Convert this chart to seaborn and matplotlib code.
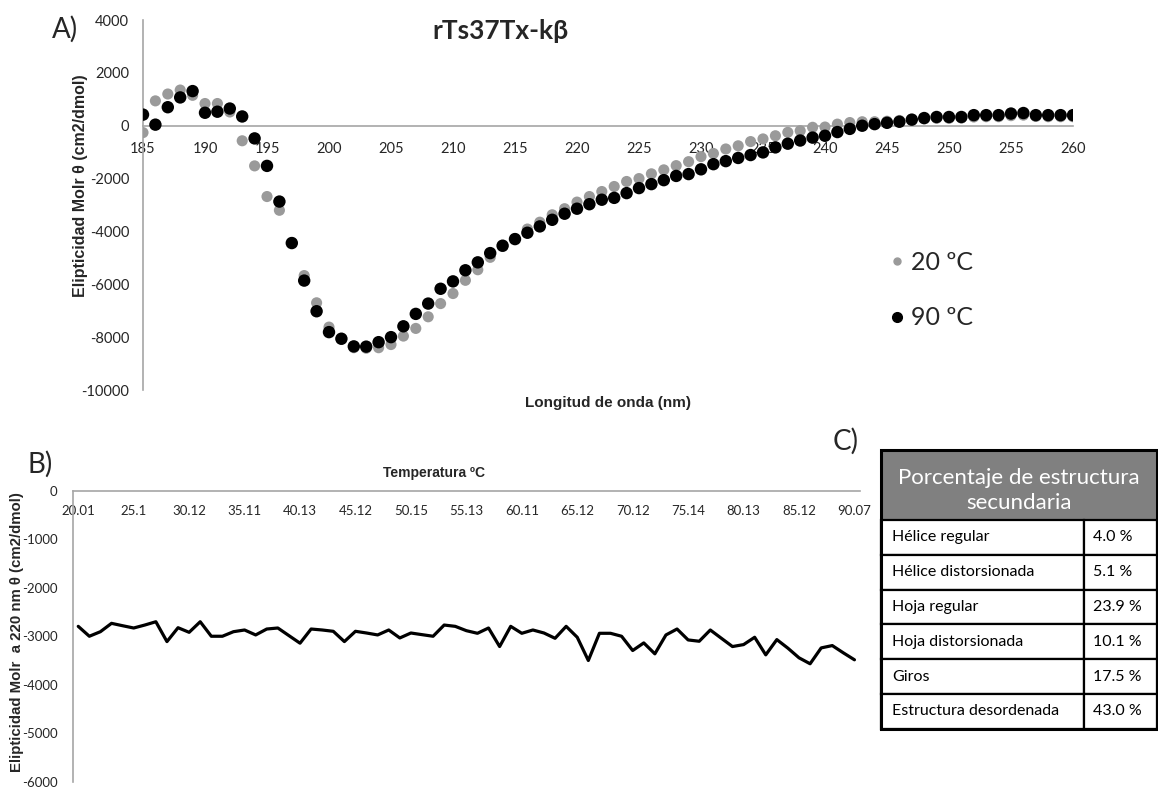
import numpy as np
import pandas as pd
import matplotlib
matplotlib.use("Agg")
import matplotlib.pyplot as plt
from matplotlib.lines import Line2D
from matplotlib.patches import Rectangle
import seaborn as sns

# ---- Panel A: CD spectra ----
wavelength = list(range(185, 261))
theta_20C = [
    -260, 940, 1200, 1350, 1150, 840, 840, 520, -570, -1520,
    -2680, -3200, -4420, -5670, -6700, -7620, -8080, -8400, -8420, -8400,
    -8280, -7960, -7670, -7230, -6730, -6350, -5850, -5450, -4980, -4570,
    -4270, -3910, -3650, -3370, -3140, -2890, -2680, -2490, -2300, -2110,
    -2000, -1820, -1670, -1510, -1360, -1170, -1050, -880, -760, -600,
    -500, -380, -250, -190, -60, -50, 60, 120, 150, 150,
    170, 200, 230, 260, 280, 280, 290, 330, 340, 340,
    380, 400, 350, 340, 340, 340,
]
theta_90C = [
    420, 40, 700, 1070, 1310, 490, 530, 650, 350, -480,
    -1520, -2870, -4440, -5860, -7020, -7810, -8060, -8350, -8360, -8190,
    -8000, -7590, -7120, -6730, -6170, -5890, -5470, -5170, -4820, -4540,
    -4290, -4050, -3810, -3560, -3330, -3140, -2970, -2800, -2730, -2550,
    -2360, -2210, -2060, -1900, -1830, -1650, -1455, -1340, -1220, -1110,
    -1010, -820, -680, -560, -450, -380, -240, -120, 0, 60,
    110, 150, 230, 290, 330, 330, 330, 400, 400, 400,
    460, 480, 400, 400, 400, 400,
]
series_labels = ["20 ºC", "90 ºC"]

# ---- Panel B: thermal denaturation at 220 nm ----
theta_220 = [
    -2794, -2998, -2904, -2732, -2781, -2828, -2767, -2699, -3108, -2822,
    -2917, -2699, -2998, -2998, -2904, -2869, -2971, -2849, -2828, -2985,
    -3141, -2849, -2869, -2896, -3108, -2896, -2931, -2971, -2869, -3033,
    -2931, -2965, -2998, -2767, -2794, -2883, -2937, -2828, -3210, -2794,
    -2937, -2869, -2931, -3040, -2794, -3019, -3497, -2937, -2937, -2998,
    -3292, -3135, -3360, -2971, -2849, -3074, -3101, -2869, -3040, -3210,
    -3170, -3019, -3381, -3067, -3244, -3442, -3565, -3238, -3190, -3340,
    -3483,
]
temp_tick_labels = ["20.01", "25.1", "30.12", "35.11", "40.13", "45.12", "50.15",
                    "55.13", "60.11", "65.12", "70.12", "75.14", "80.13", "85.12", "90.07"]

# ---- Panel C: secondary structure table ----
structure_names = ["Hélice regular", "Hélice distorsionada", "Hoja regular",
                   "Hoja distorsionada", "Giros", "Estructura desordenada"]
structure_pct = [4.0, 5.1, 23.9, 10.1, 17.5, 43.0]

W, H = 1158, 788
sns.set_theme(style="white")
plt.rcParams["font.family"] = ["Lato", "DejaVu Sans"]
plt.rcParams["axes.unicode_minus"] = False
AX_GRAY = "#a6a6a6"
TICK_FONT = "Lato"
BOLD_FONT = "Liberation Sans"

fig = plt.figure(figsize=(W / 100, H / 100), dpi=100)


def px_box(left, top, right, bottom):
    return [left / W, 1 - bottom / H, (right - left) / W, (bottom - top) / H]


# Panel A
axA = fig.add_axes(px_box(143, 20, 1073, 390))
dfA = pd.DataFrame({
    "wl": wavelength * 2,
    "theta": theta_20C + theta_90C,
    "temp": [series_labels[0]] * len(wavelength) + [series_labels[1]] * len(wavelength),
})
sns.scatterplot(data=dfA[dfA.temp == series_labels[0]], x="wl", y="theta", ax=axA,
                color="#9a9a9a", s=64, edgecolor="none", legend=False, zorder=3)
sns.scatterplot(data=dfA[dfA.temp == series_labels[1]], x="wl", y="theta", ax=axA,
                color="#000000", s=80, edgecolor="none", legend=False, zorder=4)
axA.set_xlim(185, 260)
axA.set_ylim(-10000, 4000)
axA.set_xticks(range(185, 261, 5))
axA.set_yticks(range(-10000, 4001, 2000))
for s in ["top", "right"]:
    axA.spines[s].set_visible(False)
axA.spines["bottom"].set_position(("data", 0))
axA.spines["bottom"].set_color(AX_GRAY)
axA.spines["left"].set_color(AX_GRAY)
axA.spines["bottom"].set_linewidth(1.2)
axA.spines["left"].set_linewidth(1.2)
axA.tick_params(axis="x", length=0, pad=12, labelsize=10.5)
axA.tick_params(axis="y", length=0, pad=10, labelsize=10.5)
for lab in axA.get_xticklabels() + axA.get_yticklabels():
    lab.set_fontfamily(TICK_FONT)
axA.set_xlabel("")
axA.set_ylabel("")

fig.text(80 / W, 1 - 186 / H, "Elipticidad Molr θ (cm2/dmol)", rotation=90,
         ha="center", va="center", fontsize=11.5, fontweight="bold", family=BOLD_FONT)
fig.text(608 / W, 1 - 403 / H, "Longitud de onda (nm)", ha="center", va="center",
         fontsize=11, fontweight="bold", family=BOLD_FONT)
fig.text(500 / W, 1 - 31 / H, "rTs37Tx-kβ", ha="center", va="center",
         fontsize=19, fontweight="bold", family="Lato")
fig.text(65 / W, 1 - 29 / H, "A)", ha="center", va="center", fontsize=20, family="Lato")

handles = [Line2D([], [], ls="none", marker="o", color="#9a9a9a", markersize=5),
           Line2D([], [], ls="none", marker="o", color="#000000", markersize=7)]
fig.legend(handles, series_labels, loc="center left", frameon=False,
           bbox_to_anchor=(862 / W, 1 - 290 / H), labelspacing=1.3,
           handletextpad=0.05, handlelength=1.0, prop={"family": "Lato", "size": 18})

# Panel B
axB = fig.add_axes(px_box(72.7, 490.7, 860, 782))
idx = np.arange(len(theta_220))
sns.lineplot(x=idx, y=theta_220, ax=axB, color="black", linewidth=2.3)
axB.set_xlim(-0.5, len(theta_220) - 0.5)
axB.set_ylim(-6000, 0)
axB.set_xticks(idx[::5])
axB.set_xticklabels(temp_tick_labels)
axB.set_yticks(range(-6000, 1, 1000))
for s in ["top", "right"]:
    axB.spines[s].set_visible(False)
axB.spines["bottom"].set_position(("data", 0))
axB.spines["bottom"].set_color(AX_GRAY)
axB.spines["left"].set_color(AX_GRAY)
axB.spines["bottom"].set_linewidth(1.2)
axB.spines["left"].set_linewidth(1.2)
axB.tick_params(axis="x", length=0, pad=10, labelsize=9.5)
axB.tick_params(axis="y", length=0, pad=11, labelsize=9.5)
for lab in axB.get_xticklabels() + axB.get_yticklabels():
    lab.set_fontfamily(TICK_FONT)

fig.text(17 / W, 1 - 632 / H, "Elipticidad Molr  a 220 nm θ (cm2/dmol)", rotation=90,
         ha="center", va="center", fontsize=10.8, fontweight="bold", family=BOLD_FONT)
fig.text(434 / W, 1 - 473 / H, "Temperatura ºC", ha="center", va="center",
         fontsize=10, fontweight="bold", family=BOLD_FONT)
fig.text(40 / W, 1 - 464 / H, "B)", ha="center", va="center", fontsize=20, family="Lato")

# Panel C
fig.text(846 / W, 1 - 441 / H, "C)", ha="center", va="center", fontsize=20, family="Lato")
axC = fig.add_axes([0, 0, 1, 1], facecolor="none")
axC.set_xlim(0, W)
axC.set_ylim(H, 0)
axC.axis("off")
t_left, t_right, t_div = 881, 1157, 1084
t_top, t_head = 450, 520
row_h = 34.8
axC.add_patch(Rectangle((t_left, t_top), t_right - t_left, t_head - t_top,
                        facecolor="#808080", edgecolor="black", linewidth=2))
axC.text((t_left + t_right) / 2, 478, "Porcentaje de estructura", ha="center", va="center",
         color="white", fontsize=16, family="Lato")
axC.text((t_left + t_right) / 2, 503, "secundaria", ha="center", va="center",
         color="white", fontsize=16, family="Lato")
for i, (name, pct) in enumerate(zip(structure_names, structure_pct)):
    y0 = t_head + i * row_h
    axC.add_patch(Rectangle((t_left, y0), t_div - t_left, row_h, facecolor="white",
                            edgecolor="black", linewidth=1.6))
    axC.add_patch(Rectangle((t_div, y0), t_right - t_div, row_h, facecolor="white",
                            edgecolor="black", linewidth=1.6))
    axC.text(t_left + 11, y0 + row_h / 2, name, ha="left", va="center",
             fontsize=11.5, family="Lato", color="black")
    axC.text(t_div + 9, y0 + row_h / 2, f"{pct:.1f} %", ha="left", va="center",
             fontsize=11.5, family="Lato", color="black")
axC.add_patch(Rectangle((t_left, t_top), t_right - t_left, t_head + 6 * row_h - t_top,
                        facecolor="none", edgecolor="black", linewidth=2.2))

fig.savefig("out.png", dpi=100)
